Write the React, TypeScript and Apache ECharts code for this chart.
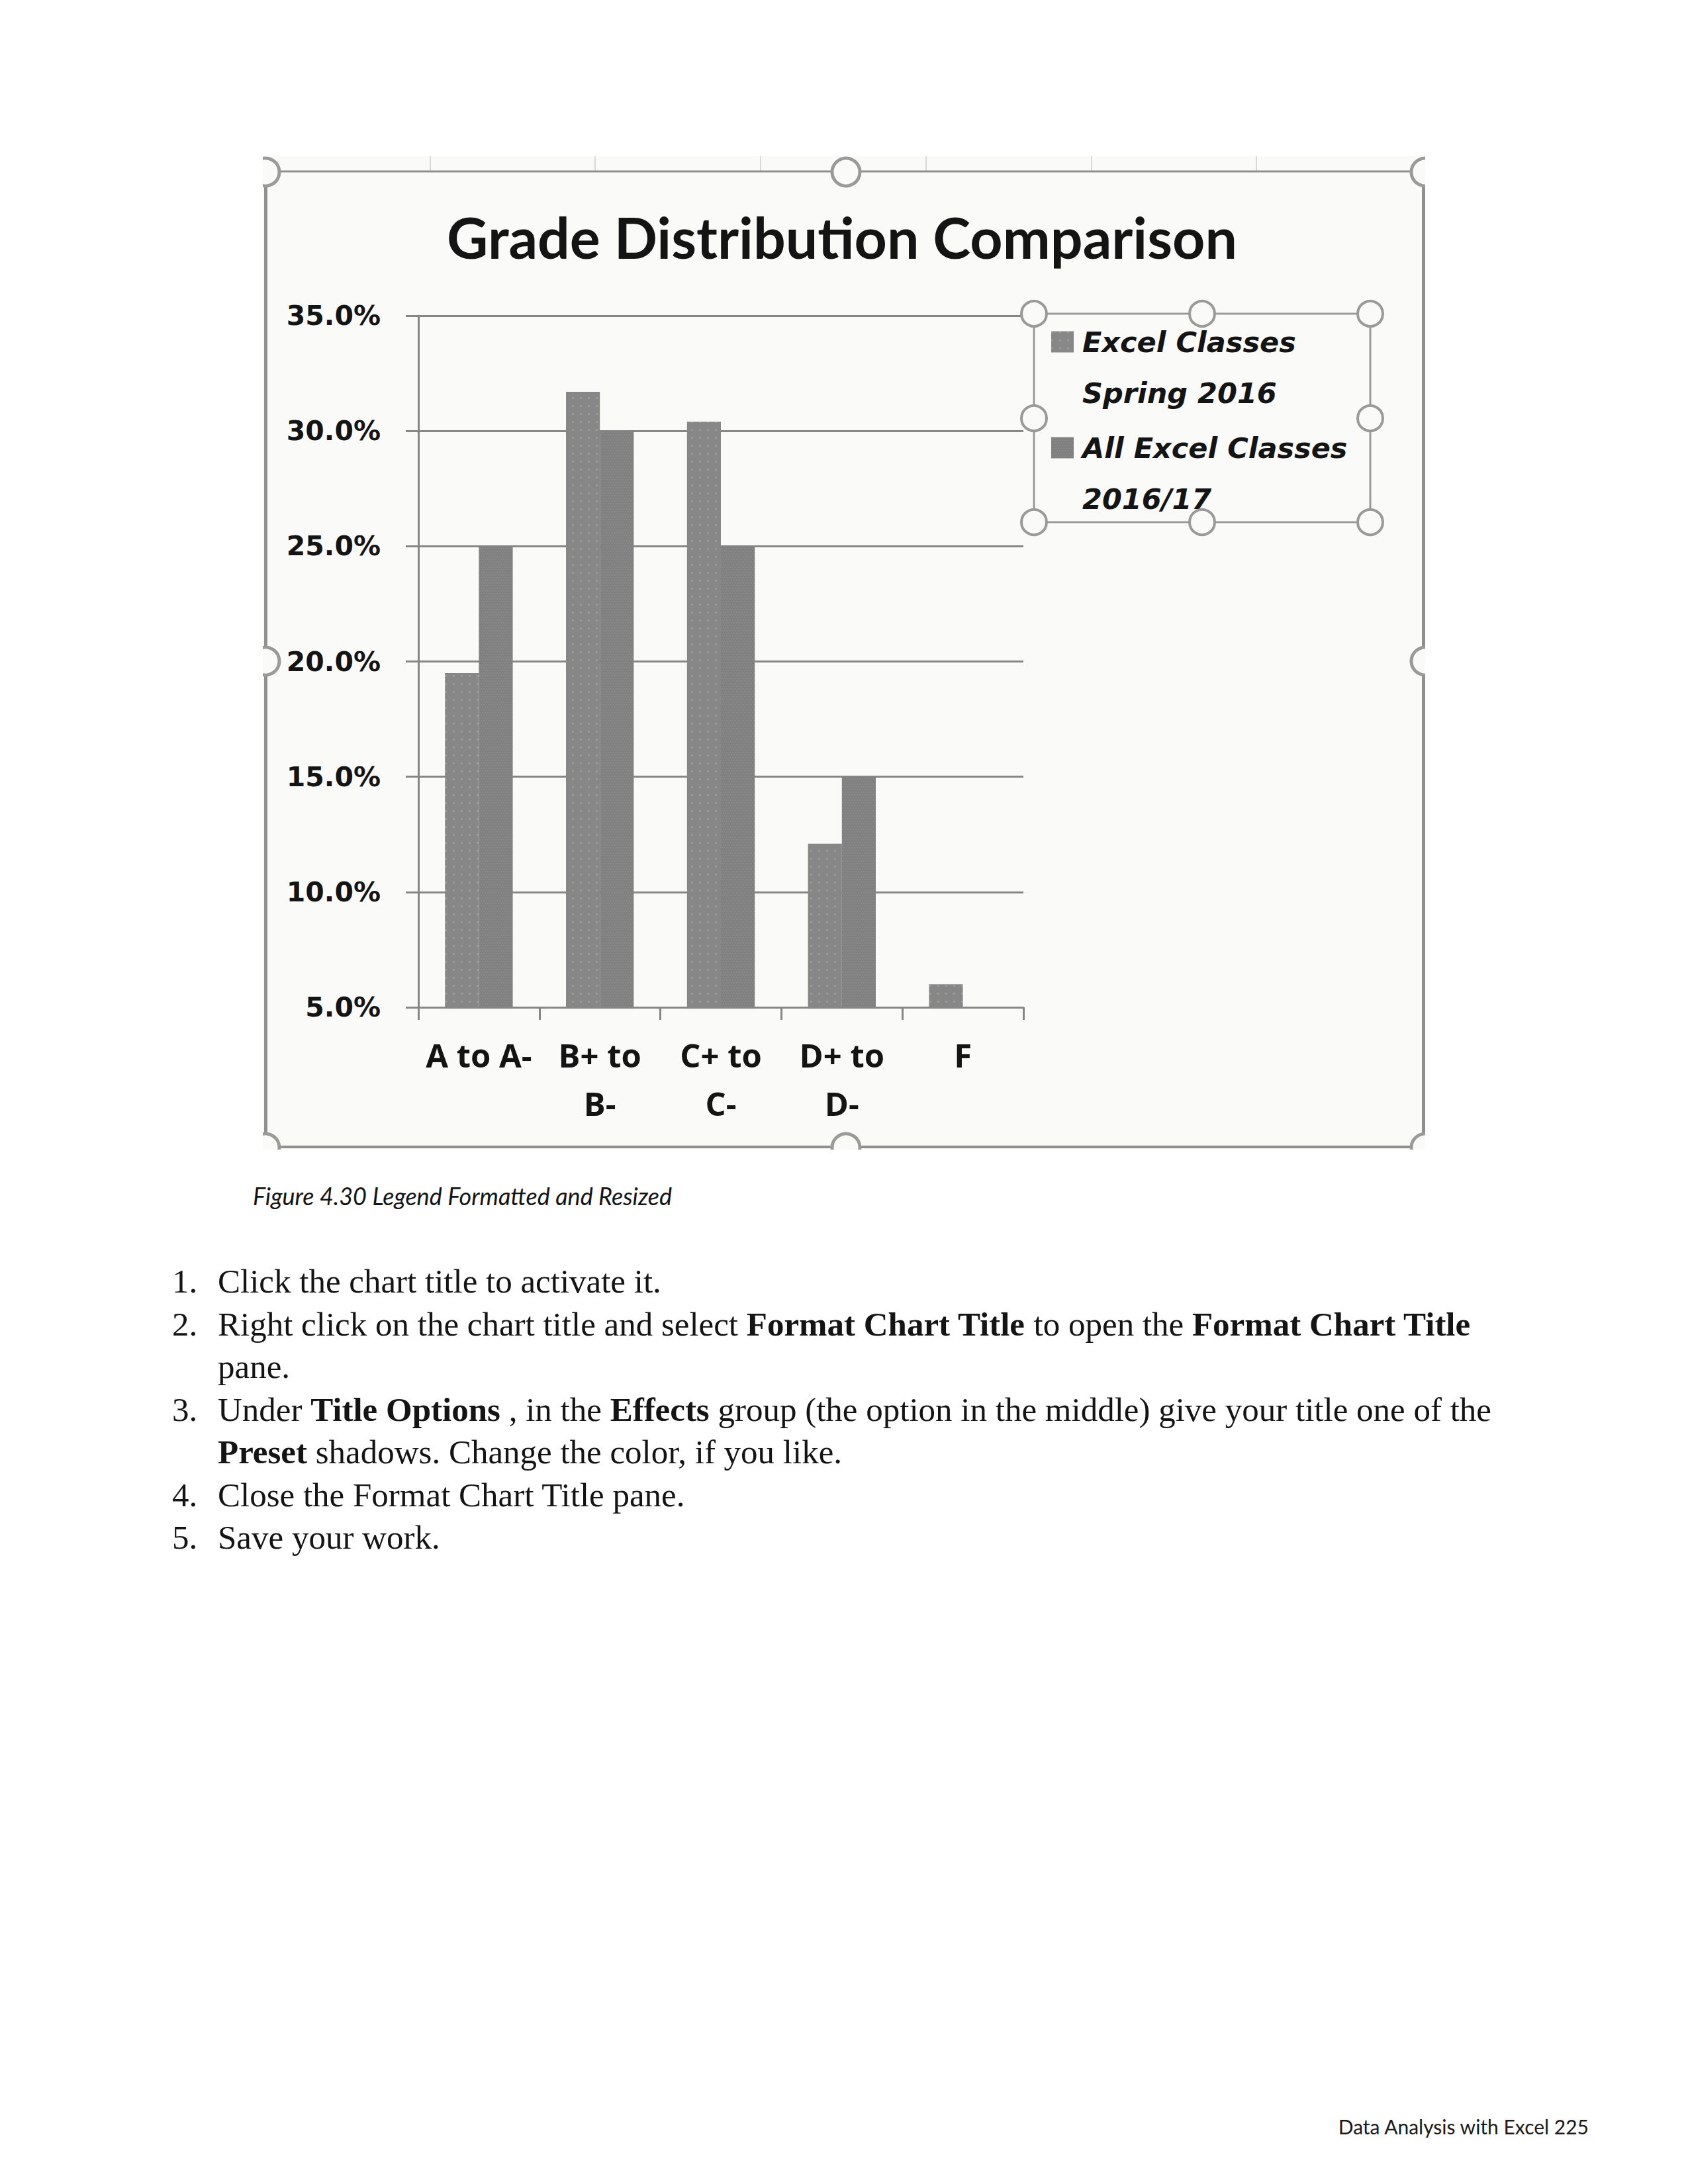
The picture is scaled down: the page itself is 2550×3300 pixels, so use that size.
import React, { useEffect, useRef } from 'react';
import * as echarts from 'echarts';

// ---------- data ----------
const categories = ['A to A-', 'B+ to\nB-', 'C+ to\nC-', 'D+ to\nD-', 'F'];
const seriesNames = ['Excel Classes\nSpring 2016', 'All Excel Classes\n2016/17'];
const spring2016 = [19.5, 31.7, 30.4, 12.1, 6.0];
const allClasses201617 = [25.0, 30.0, 25.0, 15.0, 5.0];
const yMin = 5;
const yMax = 35;
const yInterval = 5;

const chartTitle = 'Grade Distribution Comparison';
const captionText = 'Figure 4.30 Legend Formatted and Resized';
const footerText = 'Data Analysis with Excel 225';
const listNumbers = ['1.', '2.', '', '3.', '', '4.', '5.'];
const listLines = [
  'Click the chart title to activate it.',
  'Right click on the chart title and select {b|Format Chart Title} to open the {b|Format Chart Title}',
  'pane.',
  'Under {b|Title Options} , in the {b|Effects} group (the option in the middle) give your title one of the',
  '{b|Preset} shadows. Change the color, if you like.',
  'Close the Format Chart Title pane.',
  'Save your work.',
];

// ---------- styles ----------
const GRID_GRAY = '#868686';
const FRAME_GRAY = '#909090';
const HANDLE_GRAY = '#9a9a9a';
const BG = '#fafaf9';
const INK = '#141414';
const BODY_FONT = 51;

function ring(cx: number, cy: number, r: number, lw: number, z: number) {
  return {
    type: 'circle',
    shape: { cx, cy, r },
    style: { fill: BG, stroke: HANDLE_GRAY, lineWidth: lw },
    z,
    silent: true,
  };
}
function seg(x1: number, y1: number, x2: number, y2: number, stroke: string, lw: number, z: number) {
  return { type: 'line', shape: { x1, y1, x2, y2 }, style: { stroke, lineWidth: lw }, z, silent: true };
}
function whiteRect(x: number, y: number, w: number, h: number) {
  return { type: 'rect', shape: { x, y, width: w, height: h }, style: { fill: '#ffffff' }, z: 40, silent: true };
}

function buildOption(): any {
  const graphics: any[] = [];
  // chart area background (includes spreadsheet strip above frame)
  graphics.push({ type: 'rect', shape: { x: 397, y: 236, width: 1756, height: 1501 }, style: { fill: BG }, z: -10, silent: true });
  // faint spreadsheet column lines above the frame
  [650, 899, 1149, 1399, 1649, 1898].forEach((x) => graphics.push(seg(x, 236, x, 258, '#d9d9d9', 2, -5)));
  // chart frame
  graphics.push(seg(400, 259, 2152, 259, FRAME_GRAY, 3, 20));
  graphics.push(seg(401.5, 259, 401.5, 1735, FRAME_GRAY, 5, 20));
  graphics.push(seg(2150.5, 259, 2150.5, 1735, FRAME_GRAY, 5, 20));
  graphics.push(seg(400, 1733, 2152, 1733, FRAME_GRAY, 4, 20));
  // chart frame handles
  [
    [401, 260], [1278, 260], [2153, 260],
    [401, 999], [2153, 999],
    [401, 1734], [1278, 1734], [2153, 1734],
  ].forEach(([x, y]) => graphics.push(ring(x, y, 21, 5, 30)));
  // clip handles to the screenshot area
  graphics.push(whiteRect(300, 190, 97, 1620));
  graphics.push(whiteRect(2153, 190, 120, 1620));
  graphics.push(whiteRect(300, 190, 1973, 46));
  graphics.push(whiteRect(300, 1737, 1973, 35));
  // legend selection frame
  graphics.push({
    type: 'rect',
    shape: { x: 1562, y: 474, width: 508, height: 315 },
    style: { fill: 'none', stroke: '#9a9a9a', lineWidth: 3 },
    z: 3,
    silent: true,
  });
  [
    [1562, 474], [1816, 474], [2070, 474],
    [1562, 632], [2070, 632],
    [1562, 789], [1816, 789], [2070, 789],
  ].forEach(([x, y]) => graphics.push(ring(x, y, 19, 4, 6)));

  // caption
  graphics.push({
    type: 'text',
    x: 382,
    y: 1807,
    style: {
      text: captionText,
      fontFamily: 'Lato',
      fontStyle: 'italic',
      fontSize: 36,
      fill: INK,
      align: 'left',
      verticalAlign: 'middle',
      textAlign: 'left',
      textVerticalAlign: 'middle',
    },
    z: 50,
  });
  // numbered list
  const pitch = 64.5;
  listLines.forEach((line, i) => {
    const y = 1936 + pitch * i;
    if (listNumbers[i]) {
      graphics.push({
        type: 'text',
        x: 260,
        y,
        style: {
          text: listNumbers[i],
          fontFamily: 'Liberation Serif',
          fontSize: BODY_FONT,
          fill: INK,
          align: 'left',
          verticalAlign: 'middle',
          textAlign: 'left',
          textVerticalAlign: 'middle',
        },
        z: 50,
      });
    }
    graphics.push({
      type: 'text',
      x: 329,
      y,
      style: {
        text: line,
        fontFamily: 'Liberation Serif',
        fontSize: BODY_FONT,
        fill: INK,
        align: 'left',
        verticalAlign: 'middle',
        textAlign: 'left',
        textVerticalAlign: 'middle',
        rich: {
          b: { fontFamily: 'Liberation Serif', fontSize: BODY_FONT, fontWeight: 'bold', fill: INK, color: INK },
        },
      },
      z: 50,
    });
  });
  // footer
  graphics.push({
    type: 'text',
    x: 2400,
    y: 3213,
    style: {
      text: footerText,
      fontFamily: 'Lato',
      fontSize: 30,
      fill: '#1a1a1a',
      align: 'right',
      verticalAlign: 'middle',
      textAlign: 'right',
      textVerticalAlign: 'middle',
    },
    z: 50,
  });

  const axisLineStyle = { color: GRID_GRAY, width: 3 };

  return {
    animation: false,
    backgroundColor: '#ffffff',
    title: {
      text: chartTitle,
      left: 1272,
      top: 357,
      textAlign: 'center',
      textVerticalAlign: 'middle',
      padding: 0,
      textStyle: { fontFamily: 'Lato', fontWeight: 'bold', fontSize: 86, color: INK },
    },
    legend: {
      orient: 'vertical',
      left: 1588,
      top: 478,
      padding: 0,
      itemWidth: 34,
      itemHeight: 109,
      itemGap: 6,
      // square marker at the top of a tall (invisible) box so it sits beside the first text line
      icon: 'path://M0,0L34,0L34,32L0,32Z M0,109',
      symbolKeepAspect: true,
      selectedMode: false,
      data: seriesNames,
      textStyle: {
        fontFamily: 'DejaVu Sans',
        fontWeight: 'bold',
        fontStyle: 'italic',
        fontSize: 43,
        lineHeight: 77,
        color: INK,
        padding: [0, 0, 0, 8],
      },
    },
    grid: {
      left: 632,
      top: 477,
      width: 914,
      height: 1045,
      containLabel: false,
      outerBoundsMode: 'none',
    },
    xAxis: {
      type: 'category',
      data: categories,
      axisLine: { show: true, lineStyle: axisLineStyle },
      axisTick: { show: true, length: 19, lineStyle: axisLineStyle },
      axisLabel: {
        interval: 0,
        margin: 35,
        fontFamily: 'Open Sans',
        fontWeight: 'bold',
        fontSize: 49,
        lineHeight: 73,
        color: INK,
      },
      splitLine: { show: false },
    },
    yAxis: {
      type: 'value',
      min: yMin,
      max: yMax,
      interval: yInterval,
      axisLine: { show: true, lineStyle: axisLineStyle },
      axisTick: { show: true, length: 19, lineStyle: axisLineStyle },
      splitLine: { show: true, lineStyle: { color: GRID_GRAY, width: 3 } },
      axisLabel: {
        margin: 57,
        fontFamily: 'DejaVu Sans',
        fontWeight: 'bold',
        fontSize: 41,
        color: INK,
        formatter: (v: number) => `${v.toFixed(1)}%`,
      },
    },
    series: [
      {
        name: seriesNames[0],
        type: 'bar',
        data: spring2016,
        barGap: '0%',
        barCategoryGap: '44%',
        itemStyle: {
          color: '#878787',
          decal: {
            symbol: 'rect',
            symbolSize: 1,
            color: 'rgba(255,255,255,0.16)',
            dashArrayX: [[3, 9]],
            dashArrayY: [3, 9],
            rotation: 0,
          },
        },
      },
      {
        name: seriesNames[1],
        type: 'bar',
        data: allClasses201617,
        barGap: '0%',
        barCategoryGap: '44%',
        itemStyle: {
          color: '#808080',
          decal: {
            symbol: 'rect',
            symbolSize: 1,
            color: 'rgba(255,255,255,0.07)',
            dashArrayX: [[2, 2], [0, 2, 2, 0]],
            dashArrayY: [2, 2],
            rotation: 0,
          },
        },
      },
    ],
    graphic: { elements: graphics },
  };
}

export default function App() {
  const ref = useRef<HTMLDivElement>(null);
  useEffect(() => {
    if (!ref.current) return;
    const chart = echarts.init(ref.current, null, { renderer: 'svg', width: 2550, height: 3300 });
    chart.setOption(buildOption());
    return () => {
      chart.dispose();
    };
  }, []);
  return (
    <div
      ref={ref}
      style={{ position: 'absolute', left: 0, top: 0, width: 2550, height: 3300, background: '#ffffff' }}
    />
  );
}
